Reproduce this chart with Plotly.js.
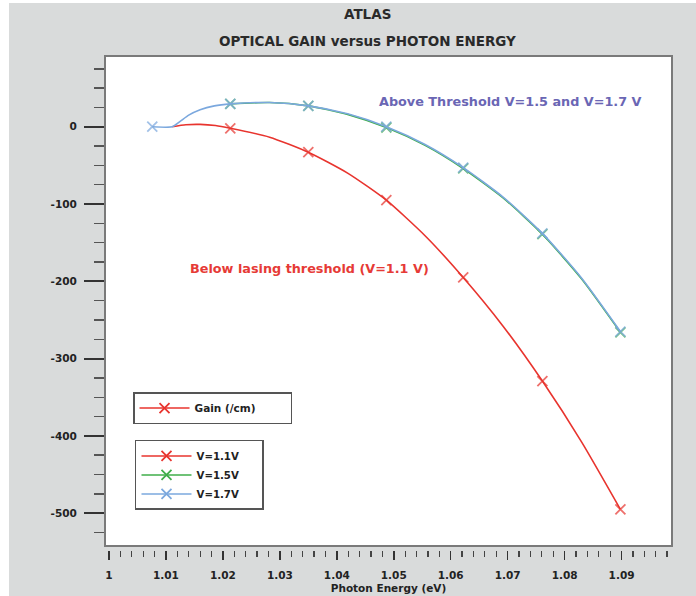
<!DOCTYPE html>
<html>
<head>
<meta charset="utf-8">
<script src="https://cdn.plot.ly/plotly-3.0.1.min.js"></script>
<style>html,body{margin:0;padding:0;background:#d9dbdb;}#chart{width:696px;height:596px;}</style>
</head>
<body>
<div id="chart"></div>
<script>
// Photon energy (eV) and optical gain (/cm)
var redX = [1.0111, 1.0135, 1.0160, 1.0187, 1.0213, 1.0282, 1.0350, 1.0419, 1.0487, 1.0555, 1.0622, 1.0692, 1.0761, 1.0830, 1.0898];
var redY = [0, 2.5, 3, 1.5, -2, -13.5, -33, -60, -95, -141, -195, -258, -329, -408, -495];
var redMarks = [0, 0, 0, 0, 1, 0, 1, 0, 1, 0, 1, 0, 1, 0, 1];

var blueX = [1.0076, 1.0111, 1.0125, 1.0140, 1.0160, 1.0185, 1.0213, 1.0282, 1.0350, 1.0419, 1.0487, 1.0555, 1.0622, 1.0692, 1.0761, 1.0830, 1.0898];
var blueY = [0, 0, 7, 15, 22, 27, 29.5, 31.3, 27, 16.7, 0, -23, -53, -91, -138, -196, -265];
var blueMarks = [1, 0, 0, 0, 0, 0, 1, 0, 1, 0, 1, 0, 1, 0, 1, 0, 1];

var greenX = [1.0213, 1.0282, 1.0350, 1.0419, 1.0487, 1.0555, 1.0622, 1.0692, 1.0761, 1.0830, 1.0898];
var greenY = [29.5, 31.3, 27, 16, -1, -24, -54, -92, -139, -197, -266];
var greenMarks = [1, 0, 1, 0, 1, 0, 1, 0, 1, 0, 1];

var seriesNames = ['V=1.1V', 'V=1.5V', 'V=1.7V'];
var gainLegendName = 'Gain (/cm)';

var xTickVals = [1, 1.01, 1.02, 1.03, 1.04, 1.05, 1.06, 1.07, 1.08, 1.09];
var xTickText = ['1', '1.01', '1.02', '1.03', '1.04', '1.05', '1.06', '1.07', '1.08', '1.09'];
var yTickVals = [0, -100, -200, -300, -400, -500];
var yTickText = ['0', '-100', '-200', '-300', '-400', '-500'];

var RED = '#e8342e', GREEN = '#3fae4a', BLUE = '#7ba8de';
var F = 'DejaVu Sans, Verdana, sans-serif';
var NB = '\u00a0';
function pad(s, n) { return s + new Array(n + 1).join(NB); }

function sizes(m) { return m.map(function (v) { return v ? 10 : 0; }); }

function curve(x, y, marks, color) {
  return {
    x: x, y: y, type: 'scatter', mode: 'lines+markers', showlegend: false,
    line: {color: color, width: 1.6, shape: 'spline', smoothing: 0.6},
    marker: {symbol: 'x-thin', size: sizes(marks), color: color, line: {color: color, width: 1.8}},
    hoverinfo: 'x+y'
  };
}
function legendEntry(name, color, legendId, rank) {
  return {
    x: [null], y: [null], name: name, type: 'scatter', mode: 'lines+markers',
    line: {color: color, width: 1.6},
    marker: {symbol: 'x-thin', size: 10, color: color, line: {color: color, width: 1.8}},
    legend: legendId, legendrank: rank
  };
}

var traces = [
  curve(redX, redY, redMarks, RED),
  curve(greenX, greenY, greenMarks, GREEN),
  curve(blueX, blueY, blueMarks, BLUE),
  legendEntry(pad(gainLegendName, 8), RED, 'legend', 1),
  legendEntry(pad(seriesNames[0], 5), RED, 'legend2', 1),
  legendEntry(pad(seriesNames[1], 5), GREEN, 'legend2', 2),
  legendEntry(pad(seriesNames[2], 5), BLUE, 'legend2', 3)
];

var H = 494; // plot height in px
var layout = {
  width: 696, height: 596,
  margin: {l: 105, r: 24, t: 56, b: 46},
  paper_bgcolor: '#d9dbdb',
  plot_bgcolor: 'rgba(0,0,0,0)',
  font: {family: F, color: '#222'},
  xaxis: {
    range: [0.9993, 1.09886],
    tickmode: 'array', tickvals: xTickVals, ticktext: xTickText,
    ticks: 'outside', ticklen: 9, tickwidth: 1.6, tickcolor: '#333',
    minor: {dtick: 0.002, tick0: 1, ticks: 'outside', ticklen: 6, tickwidth: 1.2, tickcolor: '#444'},
    showgrid: false, zeroline: false, showline: false,
    tickfont: {family: F, size: 10.5, weight: 'bold', color: '#222'},
    ticklabelstandoff: 6,
    title: {text: 'Photon Energy (eV)', font: {family: F, size: 10.5, weight: 'bold', color: '#222'}, standoff: 5}
  },
  yaxis: {
    range: [-547.6, 91.5],
    tickmode: 'array', tickvals: yTickVals, ticktext: yTickText,
    ticks: 'outside', ticklen: 20, tickwidth: 2.2, tickcolor: '#333',
    minor: {dtick: 25, tick0: 0, ticks: 'outside', ticklen: 10, tickwidth: 1.5, tickcolor: '#555'},
    showgrid: false, zeroline: false, showline: false,
    tickfont: {family: F, size: 10.5, weight: 'bold', color: '#222'},
    ticklabelstandoff: 5
  },
  showlegend: true,
  legend: {
    x: 0.0494, y: 0.3198, xanchor: 'left', yanchor: 'top',
    bgcolor: '#ffffff', bordercolor: '#555', borderwidth: 1.5,
    font: {family: F, size: 10.5, weight: 'bold', color: '#222'},
    itemwidth: 50
  },
  legend2: {
    x: 0.0529, y: 0.2227, xanchor: 'left', yanchor: 'top',
    bgcolor: '#ffffff', bordercolor: '#555', borderwidth: 1.5,
    font: {family: F, size: 10.2, weight: 'bold', color: '#222'},
    itemwidth: 50
  },
  shapes: [
    {type: 'rect', xref: 'paper', yref: 'paper', x0: 0, x1: 1, y0: 4 / H, y1: 1,
     fillcolor: '#ffffff', line: {color: '#7a7a7a', width: 2}, layer: 'below'},
    {type: 'rect', xref: 'paper', yref: 'paper', x0: -105 / 567, x1: -96 / 567, y0: -46 / H, y1: 1 + 56 / H,
     fillcolor: '#ffffff', line: {width: 0}, layer: 'below'},
    {type: 'rect', xref: 'paper', yref: 'paper', x0: -105 / 567, x1: 1 + 24 / 567, y0: 1 + 53 / H, y1: 1 + 56 / H,
     fillcolor: '#ffffff', line: {width: 0}, layer: 'below'}
  ],
  annotations: [
    {text: 'ATLAS', xref: 'paper', yref: 'paper', x: 0.4638, y: (550 - 14) / H, xanchor: 'center', yanchor: 'middle',
     showarrow: false, font: {family: F, size: 13.5, weight: 'bold', color: '#2a2a2a'}},
    {text: 'OPTICAL GAIN versus PHOTON ENERGY', xref: 'paper', yref: 'paper', x: 0.4638, y: (550 - 41) / H,
     xanchor: 'center', yanchor: 'middle', showarrow: false, font: {family: F, size: 13.5, weight: 'bold', color: '#2a2a2a'}},
    {text: 'Above Threshold V=1.5 and V=1.7 V', xref: 'paper', yref: 'paper', x: 0.716, y: (550 - 101) / H,
     xanchor: 'center', yanchor: 'middle', showarrow: false, font: {family: F, size: 12.8, weight: 'bold', color: '#6a66b4'}},
    {text: 'Below lasing threshold (V=1.1 V)', xref: 'paper', yref: 'paper', x: 0.3598, y: (550 - 268) / H,
     xanchor: 'center', yanchor: 'middle', showarrow: false, font: {family: F, size: 12.8, weight: 'bold', color: '#e63a36'}}
  ]
};

Plotly.newPlot('chart', traces, layout, {displayModeBar: false, staticPlot: true});
</script>
</body>
</html>
